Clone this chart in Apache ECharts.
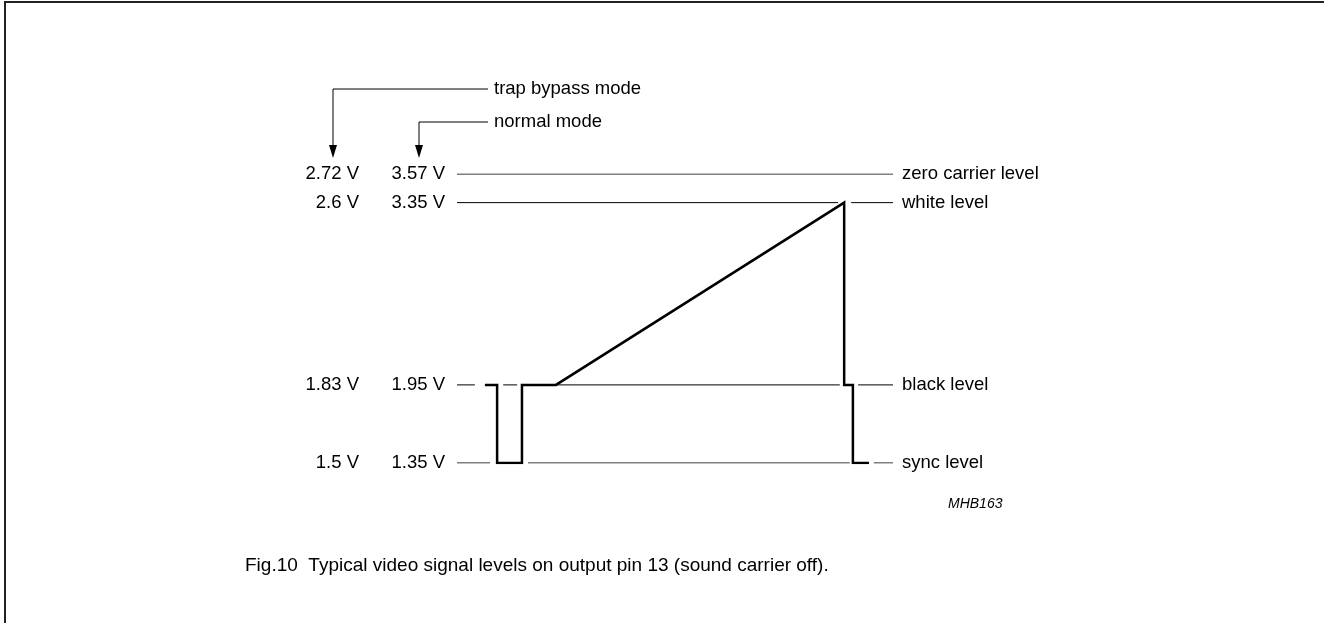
<!DOCTYPE html>
<html>
<head>
<meta charset="utf-8">
<title>Fig.10 video signal levels</title>
</head>
<body style="margin:0; background:#fff">
<div id="container" style="width:1324px; height:623px"></div>
<script src="https://cdn.jsdelivr.net/npm/echarts@6/dist/echarts.min.js"></script>
<script>
// levels, normal mode and trap bypass mode (V)
var normalLevels = [3.57, 3.35, 1.95, 1.35];
var trapLevels = [2.72, 2.6, 1.83, 1.5];
var levelNames = ['zero carrier level', 'white level', 'black level', 'sync level'];

// drawn pieces of each level line, in time units (0..100)
var levelSegments = [
    [[0, 100]],
    [[0, 87.4], [90.4, 100]],
    [[0, 4.1], [10.6, 13.8], [16.1, 87.8], [92.0, 100]],
    [[0, 7.6], [16.3, 90.1], [95.6, 100]]
];

// video signal waveform
var signalTime = [6.4, 9.2, 9.2, 14.9, 14.9, 22.7, 88.8, 88.8, 90.8, 90.8, 94.5];
var signalVolts = [1.95, 1.95, 1.35, 1.35, 1.95, 1.95, 3.35, 1.95, 1.95, 1.35, 1.35];

var FONT = 'Liberation Sans, Arial, sans-serif';
var FS = 18.5;

function idxOf(v) {
    for (var i = 0; i < normalLevels.length; i++) {
        if (Math.abs(normalLevels[i] - v) < 1e-6) return i;
    }
    return -1;
}

var chart = echarts.init(document.getElementById('container'), null, {renderer: 'canvas'});

var series = [];
levelSegments.forEach(function (segs, k) {
    var pts = [];
    segs.forEach(function (s, j) {
        if (j > 0) pts.push([s[0], null]);
        pts.push([s[0], normalLevels[k]]);
        pts.push([s[1], normalLevels[k]]);
    });
    series.push({
        type: 'line',
        data: pts,
        showSymbol: false,
        silent: true,
        connectNulls: false,
        lineStyle: {color: '#000', width: 1}
    });
});
series.push({
    type: 'line',
    data: signalTime.map(function (t, i) { return [t, signalVolts[i]]; }),
    showSymbol: false,
    silent: true,
    lineStyle: {color: '#000', width: 2.5, join: 'miter'}
});

function arrow(x, y) {
    // vertical arrow from horizontal leader down to the value column
    return [
        {type: 'polyline', shape: {points: [[488, y], [x, y], [x, 150]]},
         style: {stroke: '#000', lineWidth: 1, fill: null}},
        {type: 'polygon', shape: {points: [[x - 4, 145], [x + 4, 145], [x, 158]]},
         style: {fill: '#000'}}
    ];
}

function sideAxis(pos, offset, margin, fmt) {
    return {
        type: 'value', min: 1.35, max: 3.57, position: pos, offset: offset,
        axisLine: {show: false}, axisTick: {show: false}, splitLine: {show: false},
        axisLabel: {
            customValues: normalLevels, margin: margin, fontSize: FS, color: '#000', fontFamily: FONT,
            formatter: function (v) { var i = idxOf(v); return i < 0 ? '' : fmt(i); }
        }
    };
}

var option = {
    animation: false,
    textStyle: {fontFamily: FONT},
    title: {
        text: 'Fig.10  Typical video signal levels on output pin 13 (sound carrier off).',
        left: 240,
        top: 551,
        textStyle: {fontSize: 19, fontWeight: 'normal', color: '#000', fontFamily: FONT}
    },
    grid: {left: 457, right: 431, top: 174, bottom: 160},
    xAxis: {type: 'value', min: 0, max: 100, show: false},
    yAxis: [
        sideAxis('left', 0, 12, function (i) { return normalLevels[i].toFixed(2) + ' V'; }),
        sideAxis('left', 86, 12, function (i) { return String(trapLevels[i]) + ' V'; }),
        sideAxis('right', 0, 9, function (i) { return levelNames[i]; })
    ],
    graphic: [
        // figure frame (top and left edges)
        {type: 'line', shape: {x1: 5, y1: 2, x2: 5, y2: 623}, style: {stroke: '#222', lineWidth: 2}},
        {type: 'line', shape: {x1: 4, y1: 2, x2: 1324, y2: 2}, style: {stroke: '#222', lineWidth: 2}},
        {type: 'text', x: 494, y: 89, style: {text: 'trap bypass mode', font: FS + 'px ' + FONT, fill: '#000', textVerticalAlign: 'middle'}},
        {type: 'text', x: 494, y: 122, style: {text: 'normal mode', font: FS + 'px ' + FONT, fill: '#000', textVerticalAlign: 'middle'}},
        {type: 'text', x: 948, y: 504, style: {text: 'MHB163', font: 'italic 14px ' + FONT, fill: '#000', textVerticalAlign: 'middle'}}
    ].concat(arrow(333, 89), arrow(419, 122)),
    series: series
};

chart.setOption(option);
window.addEventListener('resize', chart.resize);
</script>
</body>
</html>
